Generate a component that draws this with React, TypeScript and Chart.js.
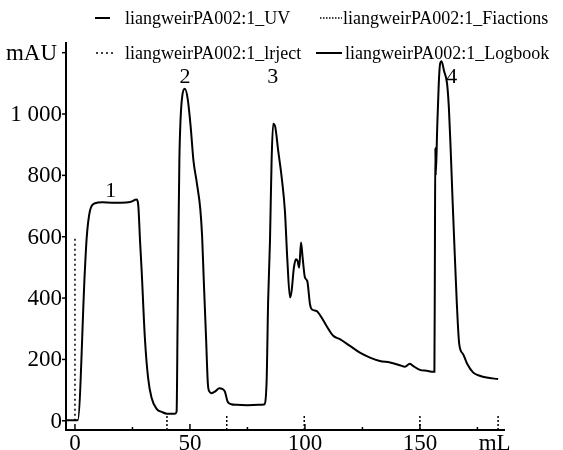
import { useEffect, useRef } from "react";
import { Chart, registerables } from "chart.js";

Chart.register(...registerables);

// UV trace (mL, mAU)
const uvVolume = [
  -3.9, 1.2, 4.3, 5.1, 6.5, 8.7, 12, 16, 20, 24, 26.8, 27.5, 28.3, 29, 30.4, 31.8, 33.3, 35.5, 38, 40, 43.5, 44.2,
  44.6, 45.0, 45.4, 45.9, 46.6, 47.8, 49.0, 50.3, 51.5, 53.0, 54.5, 55.3, 56.0, 57.0, 57.8, 58.5, 59.4, 61, 62.8, 64,
  65.2, 66.4, 68, 70.3, 75, 80, 82.2, 83.3, 84, 84.8, 85.5, 86.2, 87, 88.4, 89.9, 91.3, 92.3, 93.5, 94.2, 95.2, 96.1,
  96.8, 97.5, 98.3, 99, 100, 101, 102.2, 102.9, 105, 107.2, 109.4, 112.3, 115.2, 119.6, 123.9, 128.3, 132.6, 137,
  141.3, 143.5, 145.6, 147, 150, 153, 155.8, 156.3, 156.5, 156.7, 156.9, 157.5, 158.2, 158.8, 159.4, 160.5, 161.8,
  162.6, 163.4, 164.2, 164.8, 166, 167.1, 168.8, 170.6, 173.2, 176, 179, 184,
];
const uvAbsorbance = [
  2, 2, 489, 597, 684, 709, 712, 711, 711, 713, 721, 705, 586, 489, 270, 140, 75, 39, 28, 23, 23, 30,
  300, 600, 850, 980, 1055, 1082, 1050, 960, 850, 775, 690, 600, 460, 271, 120, 95, 90, 96, 106, 104,
  95, 62, 54, 52, 51, 52, 53, 120, 391, 586, 847, 968, 961, 879, 793, 684, 532, 402, 423, 499, 527,
  521, 499, 581, 532, 467, 456, 380, 364, 358, 337, 309, 277, 266, 244, 222, 206, 195, 190,
  181, 176, 186, 179, 166, 163, 160, 160, 500, 890, 800, 950, 1100, 1165, 1172, 1140,
  1100, 1020, 880, 720, 608, 391, 250, 217, 185, 157, 147, 141, 136,
];

// Injection marker
const injectVolume = [0, 0];
const injectAbsorbance = [0, 600];

// Fraction marks
const fractionVolumes = [40, 66, 99.7, 150, 184];
const fractionLow = -30;
const fractionHigh = 22;

// Axes
const xMin = -3.9;
const xMax = 187;
const yMin = -30;
const yMax = 1225;
const yTickValues = [0, 200, 400, 600, 800, 1000, 1200];
const yTickLabels = ["0", "200", "400", "600", "800", "1 000", "mAU"];
const xMajorTicks = [0, 50, 100, 150];
const xMajorLabels = ["0", "50", "100", "150"];
const xMinorTicks = [25, 75, 125, 175];
const xUnitLabel = "mL";
const xUnitValue = 182.5;

// Peak labels
const peakLabels = ["1", "2", "3", "4"];
const peakLabelVolume = [15.6, 47.8, 86, 163.8];
const peakLabelValue = [748, 1120, 1120, 1119];

// Legend
const legendNames = [
  "liangweirPA002:1_UV",
  "liangweirPA002:1_Fiactions",
  "liangweirPA002:1_lrject",
  "liangweirPA002:1_Logbook",
];

const FONT = '"Liberation Serif", "Times New Roman", serif';

const decorPlugin = {
  id: "decor",
  afterDraw(chart: any) {
    const ctx = chart.ctx as CanvasRenderingContext2D;
    const xs = chart.scales.x;
    const ys = chart.scales.y;
    const { left, right, top, bottom } = chart.chartArea;
    ctx.save();
    ctx.strokeStyle = "#000";
    ctx.fillStyle = "#000";
    // axis lines
    ctx.lineWidth = 2;
    ctx.beginPath();
    ctx.moveTo(left, top - 3);
    ctx.lineTo(left, bottom);
    ctx.moveTo(left - 1, bottom);
    ctx.lineTo(right, bottom);
    ctx.stroke();

    // y ticks + labels
    ctx.lineWidth = 1.5;
    ctx.font = `23px ${FONT}`;
    ctx.textAlign = "right";
    ctx.textBaseline = "middle";
    yTickValues.forEach((v, i) => {
      const py = ys.getPixelForValue(v);
      ctx.beginPath();
      ctx.moveTo(left - 4, py);
      ctx.lineTo(left, py);
      ctx.stroke();
      const isUnit = i === yTickValues.length - 1;
      ctx.fillText(yTickLabels[i], isUnit ? left - 9 : left - 4, py + 1);
    });

    // x ticks
    xMajorTicks.forEach((v) => {
      const px = xs.getPixelForValue(v);
      ctx.beginPath();
      ctx.moveTo(px, bottom);
      ctx.lineTo(px, bottom - 6);
      ctx.stroke();
    });
    xMinorTicks.forEach((v) => {
      const px = xs.getPixelForValue(v);
      ctx.beginPath();
      ctx.moveTo(px, bottom);
      ctx.lineTo(px, bottom - 3);
      ctx.stroke();
    });
    ctx.textAlign = "center";
    ctx.textBaseline = "alphabetic";
    xMajorTicks.forEach((v, i) => {
      ctx.fillText(xMajorLabels[i], xs.getPixelForValue(v), 450);
    });
    ctx.fillText(xUnitLabel, xs.getPixelForValue(xUnitValue), 450);

    // peak labels
    ctx.font = `22px ${FONT}`;
    ctx.textBaseline = "middle";
    peakLabels.forEach((t, i) => {
      ctx.fillText(t, xs.getPixelForValue(peakLabelVolume[i]), ys.getPixelForValue(peakLabelValue[i]));
    });

    // legend
    ctx.font = `18px ${FONT}`;
    ctx.textAlign = "left";
    const rows = [
      { x0: 95, x1: 110, tx: 125, y: 18, dash: [] as number[], name: legendNames[0] },
      { x0: 320, x1: 342, tx: 343, y: 18, dash: [1.5, 1.5], name: legendNames[1] },
      { x0: 96, x1: 116, tx: 125, y: 53, dash: [2, 3], name: legendNames[2] },
      { x0: 316, x1: 342, tx: 345, y: 53, dash: [] as number[], name: legendNames[3] },
    ];
    rows.forEach((r) => {
      ctx.lineWidth = r.dash.length ? 1.5 : 2;
      ctx.setLineDash(r.dash);
      ctx.beginPath();
      ctx.moveTo(r.x0, r.y);
      ctx.lineTo(r.x1, r.y);
      ctx.stroke();
      ctx.setLineDash([]);
      ctx.fillText(r.name, r.tx, r.y + 1);
    });
    ctx.restore();
  },
};

export default function App() {
  const ref = useRef<HTMLCanvasElement | null>(null);
  useEffect(() => {
    if (!ref.current) return;
    const uvData = uvVolume.map((x, i) => ({ x, y: uvAbsorbance[i] }));
    const injData = injectVolume.map((x, i) => ({ x, y: injectAbsorbance[i] }));
    const fracData: any[] = [];
    fractionVolumes.forEach((v) => {
      fracData.push({ x: v, y: fractionLow }, { x: v, y: fractionHigh }, { x: v, y: null });
    });
    const chart = new Chart(ref.current, {
      type: "line",
      data: {
        datasets: [
          {
            label: legendNames[0],
            data: uvData,
            borderColor: "#000",
            borderWidth: 2,
            pointRadius: 0,
            cubicInterpolationMode: "monotone",
          },
          {
            label: legendNames[1],
            data: fracData,
            borderColor: "#000",
            borderWidth: 1.5,
            borderDash: [2, 2],
            pointRadius: 0,
            spanGaps: false,
          },
          {
            label: legendNames[2],
            data: injData,
            borderColor: "#000",
            borderWidth: 1.5,
            borderDash: [2, 3],
            pointRadius: 0,
          },
          {
            label: legendNames[3],
            data: [],
            borderColor: "#000",
            borderWidth: 2,
            pointRadius: 0,
          },
        ],
      },
      options: {
        animation: false,
        responsive: false,
        parsing: true,
        layout: { padding: { left: 66, right: 58, top: 45, bottom: 20 } },
        scales: {
          x: { type: "linear", min: xMin, max: xMax, display: false },
          y: { type: "linear", min: yMin, max: yMax, display: false },
        },
        plugins: { legend: { display: false }, tooltip: { enabled: false } },
      },
      plugins: [decorPlugin],
    } as any);
    return () => chart.destroy();
  }, []);
  return (
    <div style={{ position: "fixed", left: 0, top: 0, width: 563, height: 450, background: "#fff" }}>
      <canvas ref={ref} width={563} height={450} />
    </div>
  );
}
